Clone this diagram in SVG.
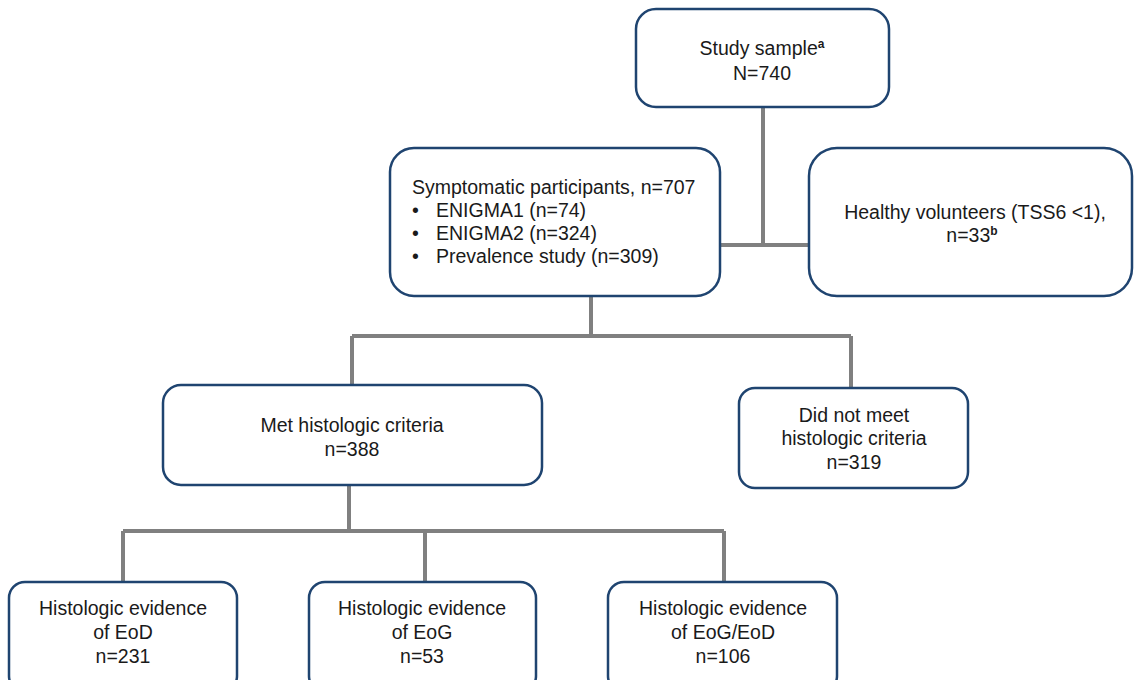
<svg xmlns="http://www.w3.org/2000/svg" width="1134" height="680" viewBox="0 0 1134 680">
<style>
.box{fill:#ffffff;stroke:#1f4470;stroke-width:2.5}
.t{font-family:"Liberation Sans",Arial,sans-serif;font-size:19.5px;fill:#1a1a1a}
.c{text-anchor:middle}
.sup{font-size:12px;font-weight:bold}
.conn{fill:none;stroke:#808080;stroke-width:4}
</style>
<rect width="1134" height="680" fill="#ffffff"/>
<g id="connectors">
<path class="conn" d="M763,107 V245 M720,245 H809"/>
<path class="conn" d="M591,296 V336 M352,336 H851 M352,336 V385 M851,336 V388"/>
<path class="conn" d="M349,485 V531 M123,531 H724 M123,531 V582 M425,531 V582 M724,531 V582"/>
</g>
<g id="study-sample">
<rect class="box" x="636" y="9" width="253" height="98" rx="20"/>
<text class="t c" x="762" y="55">Study sample<tspan class="sup" dy="-7">a</tspan></text>
<text class="t c" x="762" y="80">N=740</text>
</g>
<g id="symptomatic">
<rect class="box" x="390" y="148" width="330" height="148" rx="24"/>
<text class="t" x="412" y="194">Symptomatic participants, n=707</text>
<text class="t" x="412" y="217">•</text><text class="t" x="436" y="217">ENIGMA1 (n=74)</text>
<text class="t" x="412" y="240">•</text><text class="t" x="436" y="240">ENIGMA2 (n=324)</text>
<text class="t" x="412" y="263">•</text><text class="t" x="436" y="263">Prevalence study (n=309)</text>
</g>
<g id="healthy">
<rect class="box" x="809" y="148" width="323" height="148" rx="28"/>
<text class="t c" x="975" y="219">Healthy volunteers (TSS6 &lt;1),</text>
<text class="t c" x="972" y="242">n=33<tspan class="sup" dy="-7">b</tspan></text>
</g>
<g id="met">
<rect class="box" x="163" y="385" width="379" height="100" rx="18"/>
<text class="t c" x="352" y="432">Met histologic criteria</text>
<text class="t c" x="352" y="456">n=388</text>
</g>
<g id="not-met">
<rect class="box" x="739" y="388" width="229" height="100" rx="16"/>
<text class="t c" x="854" y="422">Did not meet</text>
<text class="t c" x="854" y="445">histologic criteria</text>
<text class="t c" x="854" y="469">n=319</text>
</g>
<g id="eod">
<rect class="box" x="9" y="582" width="228" height="110" rx="16"/>
<text class="t c" x="123" y="615">Histologic evidence</text>
<text class="t c" x="123" y="639">of EoD</text>
<text class="t c" x="123" y="663">n=231</text>
</g>
<g id="eog">
<rect class="box" x="309" y="582" width="227" height="110" rx="16"/>
<text class="t c" x="422" y="615">Histologic evidence</text>
<text class="t c" x="422" y="639">of EoG</text>
<text class="t c" x="422" y="663">n=53</text>
</g>
<g id="eog-eod">
<rect class="box" x="608" y="582" width="229" height="110" rx="16"/>
<text class="t c" x="723" y="615">Histologic evidence</text>
<text class="t c" x="723" y="639">of EoG/EoD</text>
<text class="t c" x="723" y="663">n=106</text>
</g>
</svg>
